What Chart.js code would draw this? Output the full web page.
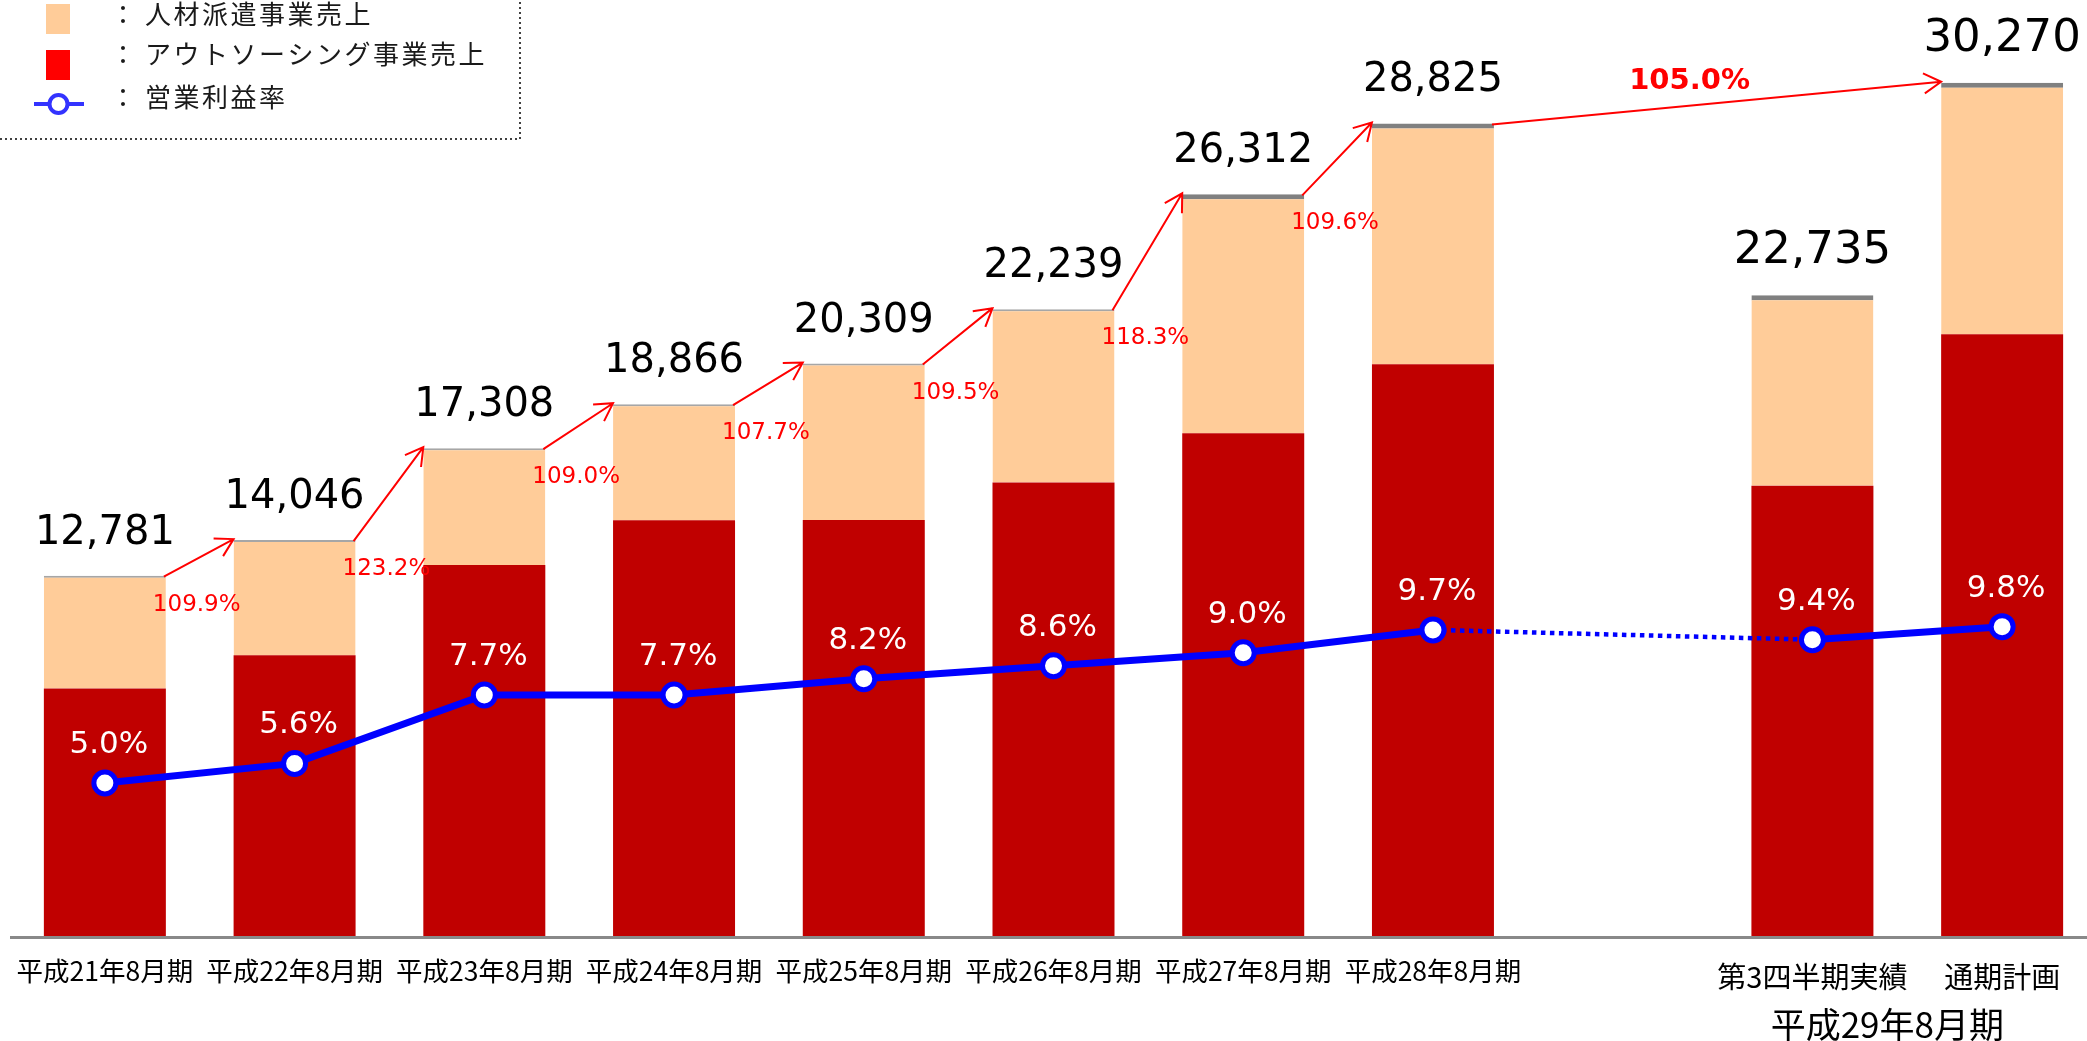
<!DOCTYPE html>
<html lang="ja">
<head>
<meta charset="utf-8">
<title>売上高・営業利益率の推移</title>
<script src="https://cdn.jsdelivr.net/npm/chart.js@4.4.1/dist/chart.umd.min.js"></script>
<style>
    html, body { margin: 0; padding: 0; background: #fff; overflow: hidden; }
    #wrap { position: relative; width: 2100px; height: 1041px; }
</style>
</head>
<body>
<div id="wrap"><canvas id="salesChart" width="2100" height="1041"></canvas></div>
<script>
// 期ごとのデータ（単位：百万円）。9番目は平成29年8月期の前の空き列
const categories = ['平成21年8月期', '平成22年8月期', '平成23年8月期', '平成24年8月期', '平成25年8月期',
    '平成26年8月期', '平成27年8月期', '平成28年8月期', '', '第3四半期実績', '通期計画'];
const outsourcingSales = [8780, 9960, 13160, 14750, 14760, 16090, 17840, 20280, null, 15970, 21350];
const staffingSales = [4001, 4086, 4148, 4116, 5549, 6149, 8472, 8545, null, 6765, 8920];
const operatingMargin = [5.0, 5.6, 7.7, 7.7, 8.2, 8.6, 9.0, 9.7, null, 9.4, 9.8];

// 前期比の矢印（どの列からどの列へ）とその表示
const growthFrom = [0, 1, 2, 3, 4, 5, 6, 7];
const growthTo = [1, 2, 3, 4, 5, 6, 7, 10];
const growthLabels = ['109.9%', '123.2%', '109.0%', '107.7%', '109.5%', '118.3%', '109.6%', '105.0%'];

// 平成29年8月期の2列をまとめる見出し
const groupLabel = '平成29年8月期';
const groupIndexes = [9, 10];

const NUM_FONT = '"DejaVu Sans", Verdana, sans-serif';
const JP_FONT = '"Noto Sans CJK JP", "Noto Sans", sans-serif';

// 矢印を描く
function drawArrow(ctx, x1, y1, x2, y2) {
    const ang = Math.atan2(y2 - y1, x2 - x1);
    const head = 20;
    ctx.beginPath();
    ctx.moveTo(x1, y1);
    ctx.lineTo(x2, y2);
    ctx.moveTo(x2 - head * Math.cos(ang - Math.PI / 6), y2 - head * Math.sin(ang - Math.PI / 6));
    ctx.lineTo(x2, y2);
    ctx.lineTo(x2 - head * Math.cos(ang + Math.PI / 6), y2 - head * Math.sin(ang + Math.PI / 6));
    ctx.stroke();
}

// 軸線・ラベル・矢印・凡例
const annotations = {
    id: 'annotations',
    afterDatasetsDraw(chart) {
        const ctx = chart.ctx;
        const area = chart.chartArea;
        const redBars = chart.getDatasetMeta(0).data;
        const topBars = chart.getDatasetMeta(1).data;
        const points = chart.getDatasetMeta(2).data;

        ctx.save();

        // 横軸線
        ctx.strokeStyle = '#898989';
        ctx.lineWidth = 3;
        ctx.beginPath();
        ctx.moveTo(10, area.bottom + 1.5);
        ctx.lineTo(chart.width, area.bottom + 1.5);
        ctx.stroke();

        // 売上合計
        ctx.fillStyle = '#000';
        ctx.textAlign = 'center';
        ctx.textBaseline = 'alphabetic';
        staffingSales.forEach((v, i) => {
            if (v == null) return;
            const total = v + outsourcingSales[i];
            const bar = topBars[i];
            const size = groupIndexes.includes(i) ? 45 : 40;
            ctx.font = size + 'px ' + NUM_FONT;
            ctx.fillText(total.toLocaleString('en-US'), bar.x, bar.y - 32);
        });

        // 前期比の矢印
        ctx.strokeStyle = '#FF0000';
        ctx.fillStyle = '#FF0000';
        ctx.lineWidth = 2;
        growthFrom.forEach((from, k) => {
            const a = topBars[from];
            const b = topBars[growthTo[k]];
            const x1 = a.x + a.width / 2 - 2, y1 = a.y + 1;
            const x2 = b.x - b.width / 2, y2 = b.y - 1;
            drawArrow(ctx, x1, y1, x2, y2);
            if (growthTo[k] - from > 1) {
                ctx.font = 'bold 29px ' + NUM_FONT;
                ctx.textAlign = 'center';
                ctx.fillText(growthLabels[k], (x1 + x2) / 2 - 27, (y1 + y2) / 2 - 14);
            } else {
                ctx.font = '23px ' + NUM_FONT;
                ctx.textAlign = 'left';
                ctx.fillText(growthLabels[k], x1 - 11, y1 + 34);
            }
        });

        // 営業利益率の値
        ctx.fillStyle = '#FFFFFF';
        ctx.textAlign = 'center';
        ctx.font = '31px ' + NUM_FONT;
        operatingMargin.forEach((v, i) => {
            if (v == null) return;
            const pt = points[i];
            ctx.fillText(v.toFixed(1) + '%', pt.x + 4, pt.y - 30);
        });

        // 横軸の項目名
        ctx.fillStyle = '#000';
        ctx.textBaseline = 'middle';
        categories.forEach((c, i) => {
            if (!c) return;
            const inGroup = groupIndexes.includes(i);
            ctx.font = (inGroup ? 29 : 26.5) + 'px ' + JP_FONT;
            ctx.fillText(c, redBars[i].x, inGroup ? 977 : 971);
        });
        const gx = groupIndexes.reduce((s, i) => s + redBars[i].x, 0) / groupIndexes.length;
        ctx.font = '35px ' + JP_FONT;
        ctx.fillText(groupLabel, gx - 20, 1025);

        ctx.restore();
    },
    afterDraw(chart) {
        const ctx = chart.ctx;
        const ds = chart.data.datasets;
        ctx.save();

        // 凡例の枠（点線）
        ctx.strokeStyle = '#404040';
        ctx.lineWidth = 2;
        ctx.setLineDash([2, 3]);
        ctx.beginPath();
        ctx.moveTo(0, 139);
        ctx.lineTo(520, 139);
        ctx.lineTo(520, 0);
        ctx.stroke();
        ctx.setLineDash([]);

        // 凡例マーク
        ctx.fillStyle = '#FFCC99';
        ctx.fillRect(46, 4, 24, 30);
        ctx.fillStyle = '#FF0000';
        ctx.fillRect(46, 50, 24, 30);
        ctx.strokeStyle = '#3333FF';
        ctx.lineWidth = 4;
        ctx.beginPath();
        ctx.moveTo(34, 104);
        ctx.lineTo(84, 104);
        ctx.stroke();
        ctx.beginPath();
        ctx.arc(58.5, 104, 9, 0, Math.PI * 2);
        ctx.fillStyle = '#fff';
        ctx.fill();
        ctx.lineWidth = 4;
        ctx.stroke();

        // 凡例テキスト
        ctx.fillStyle = '#1a1a1a';
        ctx.font = '26px ' + JP_FONT;
        ctx.textBaseline = 'middle';
        ctx.textAlign = 'left';
        ctx.letterSpacing = '2.5px';
        const rows = [[ds[1].label, 14], [ds[0].label, 54], [ds[2].label, 97]];
        rows.forEach(([label, y]) => {
            ctx.fillText('：', 110, y);
            ctx.fillText(label, 145, y);
        });
        ctx.restore();
    }
};

// 空き列をまたぐ区間だけ点線
const acrossGap = (ctx, value) => ctx.p0.skip || ctx.p1.skip ? value : undefined;

new Chart(document.getElementById('salesChart'), {
    data: {
        labels: categories,
        datasets: [{
            type: 'bar',
            label: 'アウトソーシング事業売上',
            data: outsourcingSales,
            backgroundColor: '#C00000',
            yAxisID: 'y',
            order: 1,
            barPercentage: 0.643,
            categoryPercentage: 1
        }, {
            type: 'bar',
            label: '人材派遣事業売上',
            data: staffingSales,
            backgroundColor: '#FFCC99',
            borderColor: ctx => ctx.dataIndex >= 6 ? '#808080' : '#A6A6A6',
            borderWidth: ctx => ({ top: ctx.dataIndex >= 6 ? 5 : 2, right: 0, bottom: 0, left: 0 }),
            borderSkipped: false,
            yAxisID: 'y',
            order: 1,
            barPercentage: 0.643,
            categoryPercentage: 1
        }, {
            type: 'line',
            label: '営業利益率',
            data: operatingMargin,
            yAxisID: 'y2',
            order: 0,
            borderColor: '#0000FF',
            borderWidth: 7,
            tension: 0,
            spanGaps: true,
            pointRadius: 11,
            pointHoverRadius: 11,
            pointBorderWidth: 5,
            pointBackgroundColor: '#FFFFFF',
            pointBorderColor: '#0000FF',
            segment: {
                borderDash: ctx => acrossGap(ctx, [4.5, 4.5]),
                borderWidth: ctx => acrossGap(ctx, 4.5)
            }
        }]
    },
    options: {
        responsive: false,
        devicePixelRatio: 1,
        animation: false,
        layout: { autoPadding: false, padding: { left: 10, right: 3, top: 34, bottom: 105 } },
        scales: {
            x: { stacked: true, display: false },
            y: { stacked: true, display: false, min: 0, max: 32000 },
            y2: { display: false, min: 0.3, max: 28 }
        },
        plugins: {
            legend: { display: false },
            tooltip: { enabled: false }
        }
    },
    plugins: [annotations]
});
</script>
</body>
</html>
